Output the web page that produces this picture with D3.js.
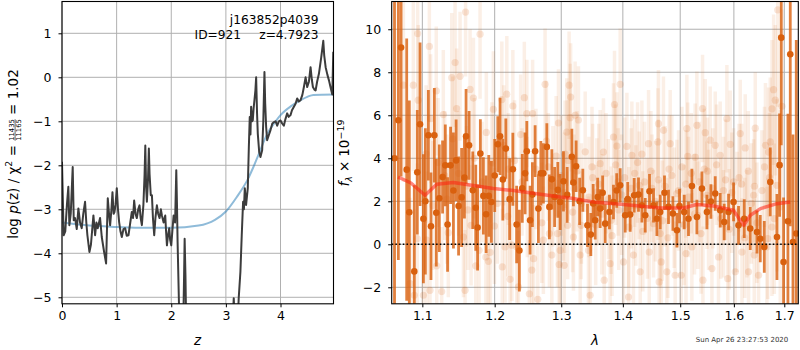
<!DOCTYPE html>
<html>
<head>
<meta charset="utf-8">
<script src="https://cdn.jsdelivr.net/npm/d3@7"></script>
<style>
body { margin: 0; background: #fff; }
svg { display: block; font-family: "DejaVu Sans", sans-serif; }
</style>
</head>
<body>
<div id="container"></div>
<script>
'use strict';

// ---- left panel: log p(z) and chi2 curve ----
var pzZ = [0.0, 0.03, 0.06, 0.09, 0.116, 0.135, 0.16, 0.196, 0.215, 0.239, 0.27, 0.30, 0.33, 0.361, 0.39, 0.422, 0.445,
    0.465, 0.502, 0.53, 0.575, 0.606, 0.63, 0.654, 0.697, 0.728, 0.771, 0.807, 0.838, 0.86, 0.881, 0.905, 0.924, 0.945,
    0.961, 0.98, 1.003, 1.025, 1.046, 1.07, 1.095, 1.125, 1.156, 1.185, 1.217, 1.25, 1.278, 1.30, 1.321, 1.345, 1.37,
    1.395, 1.419, 1.44, 1.462, 1.49, 1.511, 1.525, 1.54, 1.554, 1.575, 1.59, 1.603, 1.625, 1.646, 1.665, 1.688, 1.71,
    1.737, 1.76, 1.786, 1.81, 1.829, 1.86, 1.89, 1.905, 1.921, 1.94, 1.963, 1.98, 2.0, 2.02, 2.043, 2.07, 2.092, 2.105,
    2.116, 2.153, 2.19, 2.214, 2.235, 2.245, 2.26, 2.275, 2.35, 2.45, 2.6, 2.8, 3.0, 3.11, 3.144, 3.16, 3.2, 3.235,
    3.266, 3.29, 3.315, 3.33, 3.346, 3.37, 3.401, 3.42, 3.437, 3.45, 3.462, 3.478, 3.492, 3.508, 3.523, 3.54, 3.554,
    3.57, 3.584, 3.61, 3.633, 3.664, 3.685, 3.706, 3.72, 3.737, 3.755, 3.79, 3.817, 3.85, 3.878, 3.91, 3.939, 3.97,
    4.0, 4.03, 4.061, 4.09, 4.122, 4.15, 4.183, 4.21, 4.245, 4.275, 4.306, 4.335, 4.367, 4.40, 4.428, 4.459, 4.489,
    4.52, 4.55, 4.573, 4.593, 4.62, 4.642, 4.67, 4.703, 4.746, 4.783, 4.80, 4.826, 4.86, 4.887, 4.92, 4.948, 4.966];
var pzLog = [-1.92, -3.59, -3.5, -2.9, -2.49, -3.36, -3.1, -2.04, -3.25, -3.2, -3.45, -2.98, -3.3, -3.43, -3.1, -2.83, -3.3,
    -3.59, -3.97, -3.8, -3.14, -3.59, -3.3, -3.43, -3.2, -3.63, -3.97, -4.23, -2.75, -3.1, -3.36, -3.0, -2.61, -3.1,
    -3.06, -2.9, -2.52, -3.0, -3.29, -3.5, -3.63, -3.45, -3.43, -3.6, -3.59, -3.3, -3.06, -3.2, -2.8, -3.1, -3.2,
    -3.0, -2.91, -3.2, -3.36, -2.9, -2.23, -1.55, -2.5, -2.83, -2.3, -1.62, -2.2, -2.68, -2.68, -3.2, -3.59, -3.2,
    -2.91, -3.1, -3.2, -3.0, -3.14, -3.3, -3.14, -3.5, -3.82, -3.6, -3.43, -3.7, -3.82, -3.5, -3.14, -3.3, -2.11, -2.9,
    -3.74, -5.8, -7.0, -6.0, -4.5, -3.67, -4.5, -5.8, -8.0, -5.6, -9.0, -10.0, -8.0, -6.0, -5.02, -5.5, -6.0, -5.02,
    -4.42, -3.6, -2.83, -3.0, -2.52, -2.9, -2.52, -1.6, -0.9, -1.3, -0.67, -1.0, -0.98, -0.7, -0.52, -0.3, 0.0,
    -0.8, -1.28, -1.7, -1.81, -1.66, -1.0, 0.12, -0.6, -1.13, -1.43, -1.3, -1.2, -1.05, -1.02, -1.0, -1.1, -1.0,
    -0.98, -1.05, -1.1, -0.95, -0.82, -0.9, -0.86, -0.75, -0.67, -0.6, -0.48, -0.55, -0.52, -0.4, -0.22, 0.0, -0.22,
    -0.1, 0.23, -0.05, -0.22, -0.28, -0.3, -0.1, 0.08, 0.46, 0.83, 0.5, 0.23, 0.05, -0.07, -0.25, -0.39, 0.58];
var chiZ = [0, 0.5, 1, 1.5, 2, 2.5, 2.8, 3.0, 3.2, 3.4, 3.5, 3.6, 3.76, 3.9, 4.0, 4.2, 4.37, 4.5, 4.6, 4.97];
var chiLog = [-3.30, -3.37, -3.40, -3.42, -3.42, -3.37, -3.24, -3.05, -2.72, -2.32, -2.05, -1.75, -1.28, -1.02, -0.86,
    -0.65, -0.52, -0.44, -0.40, -0.39];
var zTicks = [0, 1, 2, 3, 4];
var pzTicks = [-5, -4, -3, -2, -1, 0, 1];

// ---- right panel: binned spectrum [wave, flux, err] ----
var binned = [
    [1.0638, 4.0, 9.0], [1.0687, 5.77, 6.5], [1.0722, 9.15, 6.0], [1.0795, 3.47, 6.1], [1.0829, 1.49, 5.2],
    [1.0894, -1.26, 4.0], [1.0933, 3.35, 2.9], [1.0970, 5.58, 3.8], [1.1014, 1.19, 3.0], [1.1040, 2.0, 3.4],
    [1.1080, 5.07, 2.1], [1.1115, 0.84, 2.5], [1.1160, 5.07, 2.2], [1.1186, 1.47, 2.5], [1.1227, 2.14, 2.5],
    [1.1271, 3.13, 1.7], [1.1308, 3.67, 1.9], [1.1339, 0.92, 2.2], [1.1380, 3.67, 1.8], [1.1419, 2.5, 2.7],
    [1.1456, 3.9, 1.9], [1.1490, 1.78, 2.3], [1.1532, 2.18, 2.3], [1.1571, 3.1, 1.9], [1.1594, 5.02, 2.2],
    [1.1636, 4.6, 1.6], [1.1688, 2.51, 1.8], [1.1730, 1.7, 2.0], [1.1756, 0.78, 2.0], [1.1795, 4.22, 1.6],
    [1.1838, 2.25, 1.8], [1.1877, 1.4, 1.8], [1.1915, 2.25, 1.9], [1.1953, 1.97, 1.9], [1.2000, 3.2, 1.7],
    [1.2045, 4.65, 1.3], [1.2078, 5.02, 1.8], [1.2118, 3.01, 1.9], [1.2162, 4.45, 1.4], [1.2218, 2.1, 1.9],
    [1.2265, 3.49, 1.7], [1.2321, 0.92, 1.8], [1.2362, -0.29, 1.9], [1.2405, 2.6, 1.6], [1.2447, 3.3, 1.9],
    [1.2473, 4.33, 1.4], [1.2522, 1.12, 1.6], [1.2557, 2.31, 1.5], [1.2598, 4.33, 1.2], [1.2648, 1.66, 1.6],
    [1.2685, 3.3, 1.5], [1.2724, 3.3, 1.4], [1.2777, 4.53, 1.1], [1.2816, 1.74, 1.5], [1.2854, 3.02, 1.4],
    [1.2897, 2.2, 1.4], [1.2947, 2.53, 1.3], [1.2983, 1.97, 1.3], [1.3035, 2.93, 1.4], [1.3093, 2.3, 1.3],
    [1.3167, 4.07, 1.3], [1.3192, 2.87, 1.1], [1.3235, 3.63, 1.2], [1.3291, 2.0, 1.1], [1.3342, 2.51, 1.0],
    [1.3417, 0.88, 1.0], [1.3471, 0.45, 1.0], [1.3509, 1.9, 0.9], [1.3542, 1.12, 0.9], [1.3582, 2.2, 0.9],
    [1.3623, 1.66, 0.9], [1.3664, 2.4, 0.8], [1.3706, 0.96, 0.9], [1.3776, 1.5, 0.8], [1.3843, 1.97, 0.8],
    [1.3897, 2.5, 0.8], [1.3955, 2.74, 0.8], [1.4040, 1.35, 0.8], [1.4082, 2.1, 0.8], [1.4124, 1.38, 0.8],
    [1.4192, 2.28, 0.8], [1.4266, 2.31, 0.8], [1.4324, 1.81, 0.8], [1.4382, 1.35, 0.8], [1.4456, 2.47, 0.8],
    [1.4526, 1.81, 0.8], [1.4585, 1.19, 0.8], [1.4643, 1.5, 0.8], [1.4719, 2.4, 0.8], [1.4790, 1.74, 0.8],
    [1.4869, 1.43, 0.8], [1.4941, 0.65, 0.8], [1.4987, 1.78, 0.8], [1.5072, 1.5, 0.8], [1.5150, 1.19, 0.8],
    [1.5212, 2.71, 0.8], [1.5304, 1.27, 0.8], [1.5397, 2.59, 0.8], [1.5490, 1.5, 0.8], [1.5564, 1.99, 0.8],
    [1.5645, 2.36, 0.8], [1.5739, 1.58, 0.8], [1.5815, 1.04, 0.85], [1.5898, 1.5, 0.85], [1.5994, 1.97, 0.9],
    [1.6090, 0.88, 0.9], [1.6201, 1.19, 0.9], [1.6318, 0.73, 1.0], [1.6451, 0.57, 1.0], [1.6516, 0.26, 1.1],
    [1.6596, -0.12, 1.2], [1.6716, 2.9, 1.6], [1.6851, 0.34, 2.0], [1.6904, 3.68, 2.4], [1.6938, 9.61, 5.0],
    [1.6985, -0.82, 3.0], [1.7075, 1.07, 5.0], [1.7123, 8.84, 8.0], [1.7179, 0.11, 5.0], [1.7247, 0.5, 9.0]
];

// individual (unbinned) points [wave, flux, err]
var single = [
    [1.0752, 7.4, 4.5], [1.0838, -1.83, 4.0], [1.0881, 7.4, 4.0], [1.0894, -2.37, 4.0], [1.0933, 0.26, 3.5],
    [1.0938, 9.8, 4.0], [1.0946, 6.7, 3.5], [1.1014, -2.37, 3.5], [1.1058, 0.19, 3.2], [1.1093, 9.2, 3.5],
    [1.1102, -2.14, 3.2], [1.1110, 5.84, 3.0], [1.1186, 7.13, 3.0], [1.1192, -1.0, 3.0], [1.1259, -2.2, 3.0],
    [1.1281, 6.03, 3.0], [1.1300, 3.2, 3.0], [1.1349, 0.54, 3.0], [1.1396, 7.75, 3.0], [1.1442, 8.45, 3.0],
    [1.1463, 6.31, 2.8], [1.1511, 7.81, 3.0], [1.1557, 0.34, 2.8], [1.1580, -2.14, 2.8], [1.1587, 10.8, 3.0],
    [1.1600, 2.7, 2.8], [1.1650, 7.2, 2.8], [1.1664, 0.88, 2.8], [1.1697, 6.8, 2.8], [1.1730, -1.0, 2.8],
    [1.1777, -0.28, 2.8], [1.1791, 9.77, 3.0], [1.1873, -0.59, 2.7], [1.1910, -0.79, 2.7], [1.1934, -0.38, 2.7],
    [1.1981, 6.28, 2.7], [1.1996, 0.85, 2.7], [1.2103, 6.73, 2.7], [1.2110, -1.05, 2.7], [1.2151, -0.12, 2.6],
    [1.2176, 6.98, 2.7], [1.2200, 3.5, 2.6], [1.2225, -1.63, 2.6], [1.2250, -0.04, 2.6], [1.2265, 6.43, 2.6],
    [1.2323, -0.12, 2.6], [1.2347, -1.98, 2.6], [1.2400, 2.9, 2.5], [1.2436, 6.82, 2.6], [1.2473, 6.08, 2.5],
    [1.2511, -2.3, 2.5], [1.2548, -1.2, 2.5], [1.2560, 6.08, 2.5], [1.2575, -0.67, 2.5], [1.2639, -2.56, 2.5],
    [1.2724, 0.19, 2.5], [1.2750, 7.44, 2.6], [1.2800, 3.6, 2.5], [1.2816, 0.5, 2.5], [1.2854, -0.5, 2.5],
    [1.2941, 0.5, 2.5], [1.2957, 5.64, 2.5], [1.2967, -0.94, 2.5], [1.2983, -0.28, 2.5], [1.3035, 1.74, 2.5],
    [1.3046, -0.98, 2.5], [1.3061, 4.19, 2.5], [1.3087, 5.22, 2.5], [1.3100, 0.88, 2.5], [1.3124, 7.4, 2.5],
    [1.3140, 5.89, 2.5], [1.3148, 6.85, 2.5], [1.3192, 0.34, 2.5], [1.3200, 2.6, 2.5], [1.3219, 6.0, 2.5],
    [1.3272, 5.78, 2.5], [1.3299, -0.5, 2.5], [1.3315, 0.88, 2.5], [1.3433, -0.28, 2.5], [1.3460, -2.37, 2.5],
    [1.3500, 3.1, 2.5], [1.3569, 2.43, 2.5], [1.3623, 3.75, 2.5], [1.3677, 4.29, 2.5], [1.3689, -1.67, 2.5],
    [1.3788, -0.9, 2.5], [1.3805, 1.12, 2.5], [1.3843, 4.99, 2.5], [1.3860, 6.5, 2.5], [1.3900, 4.57, 2.5],
    [1.3920, 2.9, 2.5], [1.3955, 7.44, 2.6], [1.4011, -0.82, 2.5], [1.4068, 4.55, 2.5], [1.4096, -2.45, 2.5],
    [1.4153, 4.14, 2.5], [1.4180, -0.5, 2.5], [1.4200, 3.3, 2.5], [1.4278, 2.74, 2.5], [1.4295, -1.28, 2.5],
    [1.4324, 4.19, 2.5], [1.4439, 4.68, 2.5], [1.4451, -0.36, 2.5], [1.4500, 2.6, 2.5], [1.4526, 0.96, 2.5],
    [1.4603, 4.76, 2.5], [1.4613, 5.61, 2.5], [1.4625, -1.75, 2.5], [1.4643, 0.5, 2.5], [1.4661, -0.82, 2.5],
    [1.4701, 5.3, 2.5], [1.4761, -1.28, 2.5], [1.4800, 3.5, 2.5], [1.4820, 4.68, 2.5], [1.4909, -1.44, 2.5],
    [1.4939, 2.36, 2.5], [1.5018, -1.44, 2.5], [1.5100, 2.8, 2.5], [1.5105, -0.43, 2.5], [1.5121, 5.38, 2.5],
    [1.5136, 4.09, 2.5], [1.5212, -0.12, 2.5], [1.5273, 4.05, 2.5], [1.5304, 5.53, 2.5], [1.5319, 1.35, 2.5],
    [1.5408, 6.31, 2.5], [1.5415, -1.67, 2.5], [1.5458, 5.19, 2.5], [1.5490, 2.28, 2.5], [1.5500, 3.4, 2.5],
    [1.5551, 4.84, 2.5], [1.5583, -1.13, 2.5], [1.5645, 4.6, 2.5], [1.5707, -0.59, 2.5], [1.5739, 4.14, 2.5],
    [1.5800, 2.5, 2.5], [1.5802, 0.96, 2.5], [1.5866, 5.84, 2.5], [1.5882, -1.6, 2.5], [1.5930, 4.65, 2.5],
    [1.5994, 2.9, 2.5], [1.6027, -1.28, 2.5], [1.6100, 3.1, 2.5], [1.6123, 5.15, 2.5], [1.6156, -0.36, 2.5],
    [1.6220, 4.48, 2.5], [1.6253, 0.96, 2.5], [1.6285, -1.28, 2.5], [1.6384, 2.28, 2.6], [1.6397, -0.5, 2.6],
    [1.6400, 2.7, 2.6], [1.6417, 5.4, 2.6], [1.6482, -1.44, 2.7], [1.6600, 3.6, 2.8], [1.6649, -0.12, 2.8],
    [1.6665, 0.26, 2.8], [1.6682, 4.29, 3.0], [1.6716, 4.76, 3.0], [1.6750, 6.3, 3.2], [1.6783, 7.19, 3.5],
    [1.6797, 1.19, 3.5], [1.6817, 6.7, 3.5], [1.6851, 2.74, 4.0], [1.6867, 10.9, 4.5], [1.6918, 1.74, 4.5],
    [1.6953, 6.42, 4.5],
    [1.105, 4.2, 3.2], [1.114, 1.8, 3.0], [1.121, 3.8, 3.0], [1.133, 2.1, 3.0], [1.141, 4.9, 2.9],
    [1.149, 3.3, 2.9], [1.162, 1.6, 2.8], [1.171, 4.0, 2.8], [1.182, 2.9, 2.8], [1.188, 5.2, 2.8],
    [1.196, 3.8, 2.8], [1.204, 1.9, 2.8], [1.213, 4.6, 2.8], [1.219, 1.3, 2.8], [1.229, 3.9, 2.8],
    [1.238, 5.1, 2.8], [1.248, 2.2, 2.8], [1.261, 3.5, 2.8], [1.270, 1.0, 2.8], [1.277, 4.8, 2.8],
    [1.287, 2.7, 2.8], [1.292, 4.1, 2.8],
    [1.300, 3.2, 2.8], [1.305, 2.4, 2.8], [1.311, 3.9, 2.8], [1.318, 1.5, 2.8], [1.325, 3.4, 2.8],
    [1.332, 1.9, 2.8], [1.338, 4.3, 2.8], [1.344, 2.2, 2.8], [1.349, 3.6, 2.8], [1.355, 0.9, 2.8],
    [1.360, 2.8, 2.8], [1.365, 1.4, 2.8], [1.372, 3.3, 2.8], [1.376, 2.1, 2.8], [1.382, 0.4, 2.8],
    [1.388, 3.7, 2.8], [1.393, 1.6, 2.8], [1.398, 2.3, 2.8], [1.403, 3.1, 2.8], [1.410, 0.8, 2.8],
    [1.414, 2.6, 2.8], [1.422, 1.8, 2.8], [1.425, 3.8, 2.8], [1.434, 0.6, 2.8], [1.437, 2.9, 2.8],
    [1.442, 1.2, 2.8], [1.448, 3.4, 2.8], [1.456, 2.0, 2.8], [1.461, 3.0, 2.8], [1.468, 1.1, 2.8],
    [1.473, 2.7, 2.8], [1.478, 0.3, 2.8], [1.485, 3.2, 2.8], [1.489, 1.7, 2.8], [1.497, 2.5, 2.8],
    [1.503, 3.6, 2.8], [1.507, 0.9, 2.8], [1.515, 2.2, 2.8], [1.520, 3.3, 2.8], [1.526, 1.4, 2.8],
    [1.535, 2.9, 2.8], [1.538, 0.5, 2.8], [1.544, 3.5, 2.8], [1.552, 1.6, 2.8], [1.560, 2.6, 2.8],
    [1.567, 3.7, 2.8], [1.575, 1.2, 2.8], [1.584, 3.0, 2.8], [1.591, 0.7, 2.8], [1.596, 2.4, 2.8],
    [1.606, 1.5, 2.8], [1.615, 2.8, 2.8], [1.621, 0.3, 2.8], [1.628, 3.4, 2.8], [1.634, 1.9, 2.8],
    [1.645, 1.0, 2.8], [1.655, 2.5, 2.8], [1.662, 4.6, 2.9], [1.670, 3.1, 3.0], [1.675, 0.8, 3.2]
];

// model continuum
var modelWave = [1.0683, 1.085, 1.1036, 1.1192, 1.1418, 1.1981, 1.225, 1.2983, 1.314, 1.351, 1.401, 1.464, 1.506,
    1.530, 1.561, 1.599, 1.619, 1.632, 1.652, 1.685, 1.712];
var modelFlux = [3.13, 2.85, 2.28, 2.79, 2.87, 2.59, 2.51, 2.2, 2.15, 1.97, 1.85, 1.69, 1.69, 1.85, 1.78, 1.58, 0.88,
    1.35, 1.66, 1.89, 1.97];
var waveTicks = [1.1, 1.2, 1.3, 1.4, 1.5, 1.6, 1.7];
var fluxTicks = [-2, 0, 2, 4, 6, 8, 10];

var orange = '#d9600e';
var gridColor = '#b0b0b0';
var tickFont = '12.5px';

var svg = d3.select('#container').append('svg')
    .attr('width', 800)
    .attr('height', 350);

var L = {left: 62, right: 333.5, top: 1.5, bottom: 303.8};
var R = {left: 391.7, right: 798.3, top: 1.5, bottom: 303.8};

var xz = d3.scaleLinear().domain([0, 4.97]).range([L.left, L.right]);
var yp = d3.scaleLinear().domain([-5.148, 1.723]).range([L.bottom, L.top]);
var xl = d3.scaleLog().domain([1.0602, 1.7289]).range([R.left, R.right]);
var yf = d3.scaleLinear().domain([-2.767, 11.29]).range([R.bottom, R.top]);

var defs = svg.append('defs');
defs.append('clipPath').attr('id', 'clipL').append('rect')
    .attr('x', L.left).attr('y', L.top).attr('width', L.right - L.left).attr('height', L.bottom - L.top);
defs.append('clipPath').attr('id', 'clipR').append('rect')
    .attr('x', R.left).attr('y', R.top).attr('width', R.right - R.left).attr('height', R.bottom - R.top);

function drawGrid(box, xs, ys, xt, yt) {
    var g = svg.append('g').attr('class', 'grid');
    g.selectAll('.gx').data(xt).enter().append('line')
        .attr('x1', function(d) { return xs(d); }).attr('x2', function(d) { return xs(d); })
        .attr('y1', box.top).attr('y2', box.bottom)
        .attr('stroke', gridColor).attr('stroke-width', 1);
    g.selectAll('.gy').data(yt).enter().append('line')
        .attr('y1', function(d) { return ys(d); }).attr('y2', function(d) { return ys(d); })
        .attr('x1', box.left).attr('x2', box.right)
        .attr('stroke', gridColor).attr('stroke-width', 1);
}

function drawAxes(box, xs, ys, xt, yt, xfmt, yfmt) {
    var ax = svg.append('g')
        .attr('transform', 'translate(0,' + box.bottom + ')')
        .call(d3.axisBottom(xs).tickValues(xt).tickFormat(xfmt).tickSize(3.5).tickPadding(4));
    var ay = svg.append('g')
        .attr('transform', 'translate(' + box.left + ',0)')
        .call(d3.axisLeft(ys).tickValues(yt).tickFormat(yfmt).tickSize(3.5).tickPadding(7));
    [ax, ay].forEach(function(a) {
        a.select('.domain').remove();
        a.selectAll('text').style('font-size', tickFont).style('font-family', '"DejaVu Sans", sans-serif')
            .attr('fill', '#000');
        a.selectAll('line').attr('stroke', '#000');
    });
    svg.append('rect')
        .attr('x', box.left).attr('y', box.top)
        .attr('width', box.right - box.left).attr('height', box.bottom - box.top)
        .attr('fill', 'none').attr('stroke', '#000').attr('stroke-width', 1.1);
}

// ---- left panel ----
drawGrid(L, xz, yp, zTicks, pzTicks);

var plotL = svg.append('g').attr('clip-path', 'url(#clipL)');
var chiLine = d3.line()
    .x(function(d, i) { return xz(chiZ[i]); })
    .y(function(d) { return yp(d); })
    .curve(d3.curveMonotoneX);
plotL.append('path')
    .attr('d', chiLine(chiLog))
    .attr('fill', 'none').attr('stroke', '#1f77b4').attr('stroke-opacity', 0.5).attr('stroke-width', 2);

var pzLine = d3.line()
    .x(function(d, i) { return xz(pzZ[i]); })
    .y(function(d) { return yp(d); });
plotL.append('path')
    .attr('d', pzLine(pzLog))
    .attr('fill', 'none').attr('stroke', '#3c3c3c').attr('stroke-width', 2)
    .attr('stroke-linejoin', 'round');

drawAxes(L, xz, yp, zTicks, pzTicks, d3.format('d'), d3.format('d'));

svg.append('text').attr('x', 318.5).attr('y', 24).attr('text-anchor', 'end')
    .style('font-size', '12.2px').text('j163852p4039');
svg.append('text').attr('x', 241).attr('y', 39).attr('text-anchor', 'end')
    .style('font-size', '12.2px').text('ID=921');
svg.append('text').attr('x', 318.5).attr('y', 39).attr('text-anchor', 'end')
    .style('font-size', '12.2px').text('z=4.7923');

// ---- right panel ----
drawGrid(R, xl, yf, waveTicks, fluxTicks);

var plotR = svg.append('g').attr('clip-path', 'url(#clipR)');

var faint = plotR.append('g');
faint.selectAll('line').data(single).enter().append('line')
    .attr('x1', function(d) { return xl(d[0]); }).attr('x2', function(d) { return xl(d[0]); })
    .attr('y1', function(d) { return yf(d[1] - d[2]); }).attr('y2', function(d) { return yf(d[1] + d[2]); })
    .attr('stroke', orange).attr('stroke-opacity', 0.1).attr('stroke-width', 3.5);
faint.selectAll('circle').data(single).enter().append('circle')
    .attr('cx', function(d) { return xl(d[0]); }).attr('cy', function(d) { return yf(d[1]); })
    .attr('r', 3.6).attr('fill', orange).attr('fill-opacity', 0.16);

var dark = plotR.append('g');
dark.selectAll('line').data(binned).enter().append('line')
    .attr('x1', function(d) { return xl(d[0]); }).attr('x2', function(d) { return xl(d[0]); })
    .attr('y1', function(d) { return yf(d[1] - d[2]); }).attr('y2', function(d) { return yf(d[1] + d[2]); })
    .attr('stroke', orange).attr('stroke-opacity', 0.8).attr('stroke-width', 2.8);
dark.selectAll('circle').data(binned).enter().append('circle')
    .attr('cx', function(d) { return xl(d[0]); }).attr('cy', function(d) { return yf(d[1]); })
    .attr('r', 3.3).attr('fill', orange);

var modelLine = d3.line()
    .x(function(d, i) { return xl(modelWave[i]); })
    .y(function(d) { return yf(d); });
plotR.append('path')
    .attr('d', modelLine(modelFlux))
    .attr('fill', 'none').attr('stroke', '#ff2010').attr('stroke-opacity', 0.55).attr('stroke-width', 3.5)
    .attr('stroke-linejoin', 'round');

plotR.append('line')
    .attr('x1', R.left).attr('x2', R.right)
    .attr('y1', yf(0)).attr('y2', yf(0))
    .attr('stroke', '#000').attr('stroke-width', 1.5).attr('stroke-dasharray', '1.5,2.2');

drawAxes(R, xl, yf, waveTicks, fluxTicks, d3.format('.1f'), d3.format('d'));

// ---- axis labels ----
function richLabel(baseX, centerY, parts, size) {
    var g = svg.append('g').attr('transform', 'translate(' + baseX + ',' + centerY + ') rotate(-90)');
    var inner = g.append('g');
    var pos = 0;
    parts.forEach(function(p) {
        if (p.gap) { pos += p.gap; return; }
        if (p.frac) {
            var fs = size * p.s;
            var n = inner.append('text').attr('y', -3.5).style('font-size', fs + 'px').text(p.frac[0]);
            var d = inner.append('text').attr('y', 3.9).style('font-size', fs + 'px').text(p.frac[1]);
            var w = Math.max(n.node().getComputedTextLength(), d.node().getComputedTextLength());
            n.attr('x', pos + (w - n.node().getComputedTextLength()) / 2);
            d.attr('x', pos + (w - d.node().getComputedTextLength()) / 2);
            inner.append('line').attr('x1', pos).attr('x2', pos + w).attr('y1', -2.4).attr('y2', -2.4)
                .attr('stroke', '#000').attr('stroke-width', 0.6);
            pos += w;
            return;
        }
        var t = inner.append('text')
            .attr('x', pos).attr('y', p.dy || 0)
            .style('font-size', (size * (p.s || 1)) + 'px')
            .style('font-style', p.it ? 'italic' : 'normal')
            .text(p.t);
        pos += t.node().getComputedTextLength();
    });
    inner.attr('transform', 'translate(' + (-pos / 2) + ',0)');
}

richLabel(17.5, 154, [
    {t: 'log'}, {gap: 4.3}, {t: 'p', it: true}, {t: '(z)'}, {gap: 4.3}, {t: '/'}, {gap: 4.3},
    {t: 'χ'}, {t: '2', s: 0.7, dy: -5.5}, {gap: 4.3}, {t: '='}, {gap: 4.3},
    {frac: ['11435', '11165'], s: 0.5}, {gap: 4.3}, {t: '='}, {gap: 4.3}, {t: '1.02'}
], 13.5);

richLabel(349, 153, [
    {t: 'f', it: true}, {t: 'λ', it: true, s: 0.7, dy: 3}, {gap: 4}, {t: '×'}, {gap: 4},
    {t: '10'}, {t: '−19', s: 0.7, dy: -5.5}
], 13.5);

svg.append('text').attr('x', 197.5).attr('y', 345).attr('text-anchor', 'middle')
    .style('font-size', '13.5px').style('font-style', 'italic').text('z');
svg.append('text').attr('x', 595).attr('y', 345).attr('text-anchor', 'middle')
    .style('font-size', '13.5px').style('font-style', 'italic').text('λ');

svg.append('text').attr('x', 742).attr('y', 342).attr('text-anchor', 'middle')
    .style('font-size', '7px').attr('fill', '#333').text('Sun Apr 26 23:27:53 2020');
</script>
</body>
</html>
